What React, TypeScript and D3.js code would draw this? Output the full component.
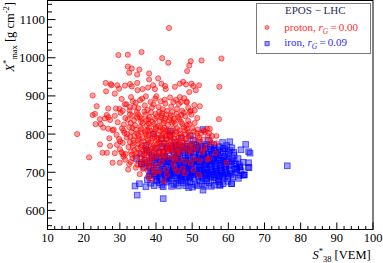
import React from "react";
import * as d3 from "d3";

const protonPoints: [number, number][] = [
  [43.6,1078],[36.0,1015],[29.6,1007],[32.2,1008],[41.7,999],[43.4,987],[32.2,977],[33.3,972],[35.4,969],[32.6,961],[34.8,956],[38.1,959],[38.1,943],[40.6,946],[26.1,934],[27.5,931],[27.7,928],[29.3,928],[31.4,927],[32.8,931],[33.3,925],[34.8,934],[36.3,918],[34.9,915],[37.8,922],[39.2,928],[39.7,918],[41.5,932],[42.5,926],[42.7,918],[45.2,924],[46.6,932],[26.2,912],[28.6,906],[29.8,919],[22.5,901],[23.6,873],[26.8,867],[28.9,867],[31.4,878],[32.8,871],
  [58.1,998],[52.6,993],[49.6,991],[49.2,980],[48.6,965],[47.5,937],[48.3,930],[49.8,932],[50.3,926],[51.9,928],[57.5,924],[49.2,910],[51.0,915],[46.6,897],[46.9,884],[48.5,883],[52.1,873],[49.6,862],
  [18.2,800],[21.5,739],[22.5,850],[23.1,853],[23.3,826],[24.7,826],[24.5,839],[26.4,850],[25.9,841],[26.8,844],[27.3,837],[25.4,817],[26.8,814],[28.0,810],[24.5,773],[25.2,751],[26.4,751],[27.3,769],[27.1,789],[28.6,750],[28.0,725],[30.0,725],[30.9,747],[32.3,707],
  [57.4,839],[59.5,725],[54.1,814],[54.9,814],[53.5,806],[54.7,802],[56.7,795],[55.4,777],[56.7,776],[56.5,750],[51.9,693],[50.3,706],[47.5,710],[45.2,710],[54.7,736],[40.9,702],[49.4,858],[50.7,862],[48.5,885],[51.5,812],[52.5,803],[54.3,795],[51.5,795],[53.0,785],[55.0,782],[55.5,795],
  [30.5,892],[33.1,897],[35.6,889],[37.2,899],[39.8,893],[41.3,886],[43.9,896],[45.5,890],[47.8,894],[31.8,878],[34.4,882],[36.9,875],[38.5,884],[40.7,871],[42.6,880],[44.2,872],[46.3,879],[48.9,869],[50.6,876],[29.9,866],[32.7,862],[35.1,868],[37.6,863],[39.3,878],[41.9,865],[43.1,861],[45.8,866],[47.2,861],[36.2,893],[38.9,870],[34.0,871],[42.4,890],[44.8,884],[40.1,899],[33.6,886],
  [28.6,848],[30.2,856],[31.5,842],[32.8,852],[33.9,836],[34.7,858],[35.5,845],[36.3,829],[37.1,851],[37.9,838],[38.6,857],[39.4,826],[40.2,846],[41.0,834],[41.7,855],[42.5,841],[43.3,824],[44.1,849],[44.9,833],[45.7,853],[46.5,839],[47.3,826],[48.1,847],[48.9,835],[49.8,851],[50.7,829],[29.4,831],[31.1,825],[32.2,838],[33.4,848],[34.2,823],[35.9,833],[36.8,859],[37.5,822],[38.2,844],[39.0,832],[39.9,853],[40.6,821],[41.4,843],[42.1,829],[42.9,851],[43.7,836],[44.5,858],[45.3,827],[46.1,845],[46.9,832],[47.7,856],[48.5,823],[51.4,842],[30.8,861],[35.0,852],[39.7,840],[43.9,843],[47.0,850],[36.0,840],[40.9,858],[45.0,840],[49.2,826],[33.0,829],[38.0,828],[42.3,835],[37.4,836],[41.6,849],[44.4,830],[34.8,843],
  [28.3,812],[29.1,798],[29.8,787],[30.6,815],[31.3,803],[31.9,791],[32.6,818],[33.2,806],[33.8,784],[34.5,811],[35.1,797],[35.7,819],[36.3,789],[36.9,807],[37.5,795],[38.1,816],[38.7,782],[39.3,801],[39.9,813],[40.5,790],[41.1,808],[41.7,796],[42.3,817],[42.9,786],[43.5,804],[44.1,792],[44.7,814],[45.3,799],[45.9,783],[46.5,810],[47.1,794],[47.7,818],[48.3,788],[48.9,805],[49.5,797],[50.1,815],[50.7,784],[51.3,802],[52.0,790],[53.2,809],[30.1,781],[32.0,800],[34.0,795],[35.9,804],[37.8,785],[39.6,793],[41.4,786],[43.2,811],[45.0,788],[46.8,801],[48.6,813],[33.5,816],[36.6,781],[40.0,819],[44.3,783],[47.5,783],[38.4,809],[42.0,802],[35.4,788],[31.0,809],[39.0,788],[41.9,812],[43.8,798],[45.6,806],[37.2,800],[40.8,798],[49.0,792],[34.8,802],[36.0,813],[38.0,797],[42.6,794],[44.6,802],[46.2,791],[32.9,793],[39.5,806],[41.2,817],[43.0,789],[47.9,799],[50.5,807],[35.0,783],[37.6,810],[40.3,785],[42.8,808],[45.8,815],[48.0,810],
  [29.2,772],[30.0,760],[30.8,777],[31.6,748],[32.4,766],[33.1,754],[33.7,776],[34.3,742],[34.9,763],[35.5,751],[36.1,771],[36.7,745],[37.3,759],[37.9,778],[38.5,748],[39.1,767],[39.7,755],[40.3,774],[40.9,743],[41.5,762],[42.1,750],[42.7,770],[43.3,757],[43.9,779],[45.1,765],[45.7,753],[46.3,773],[47.5,761],[48.7,776],[49.3,758],[49.9,768],[51.2,763],[52.0,775],[52.8,752],[53.9,767],[31.0,741],[32.8,779],[34.0,758],[35.8,766],[37.0,750],[38.8,762],[40.0,748],[41.2,777],[42.4,744],[43.6,764],[44.8,771],[46.0,758],[47.2,778],[33.6,769],[36.4,756],[39.4,771],[42.9,761],[45.4,748],[47.8,766],[50.2,757],[34.6,750],[37.6,773],[40.6,766],[44.2,756],[46.6,750],[38.2,741],[41.8,756],[36.9,764],[39.8,760],[35.2,774],[49.6,773],[53.0,759],[30.5,752],[33.3,746],[45.9,776],[48.9,753],[41.0,752],[43.8,772],[38.0,754],[40.8,779],[42.2,777],[44.0,762],[46.8,768],
  [31.5,733],[32.6,721],[33.5,737],[34.4,712],[35.2,728],[36.0,717],[36.8,735],[37.6,706],[38.4,723],[39.2,714],[33.0,727],[35.8,739],[37.0,724],[38.9,735],[36.3,709],[39.6,703],[34.8,720],[38.0,731],[36.5,729],[39.8,739],[37.9,716],
  [41.6,726],[43.2,738],[44.8,722],[46.4,733],[48.0,729],[49.6,724],[52.0,731],[54.2,734],[41.9,737],[45.2,735],[50.4,736],[42.8,707],[46.0,702],[40.4,719],[44.6,738],
  [35.5,695],[37.8,688],[39.5,697],[38.7,681],[43.0,693],[48.0,697],[42.2,676],
];

const ironPoints: [number, number][] = [
  [39.2,800],[37.2,770],[41.5,788],[43.8,797],[45.2,779],[47.0,790],[48.6,775],[50.3,785],[52.0,778],[53.0,812],[54.5,784],[56.0,772],[58.4,778],[60.4,780],[64.8,773],[44.0,808],[42.2,775],[46.5,771],[49.5,796],[51.0,771],
  [45.5,770],[47.5,758],[49.5,752],[51.5,766],[53.5,762],[55.5,747],[57.5,767],[58.5,756],[59.5,770],[52.0,750],[54.0,773],[56.0,757],[50.5,773],[48.0,768],[46.2,755],[55.2,760],[57.0,748],[53.0,745],[61.5,752],[59.0,762],
  [36.0,748],[37.5,758],[38.8,744],[39.9,763],[40.8,751],[41.7,767],[42.5,742],[43.3,756],[44.1,769],[44.9,746],[45.7,760],[46.5,749],[47.3,765],[48.1,743],[48.9,757],[49.7,768],[50.5,751],[51.3,762],[52.1,745],[52.9,759],[53.7,768],[54.5,748],[55.3,756],[56.1,764],[56.9,744],[57.7,753],[58.6,762],[59.5,747],[60.5,757],[61.6,745],[62.7,736],[65.6,754],[66.0,750],[40.0,741],[42.0,752],[44.5,763],[46.0,741],[47.8,752],[49.0,745],[51.0,755],[53.3,750],[55.0,766],[57.0,759],[59.0,741],[43.0,763],[45.0,753],[50.0,761],[54.0,743],[56.5,750],[48.5,762],[52.5,769],[38.0,753],[60.0,752],[61.0,764],[63.5,759],
  [34.6,736],[36.0,722],[37.0,731],[38.0,716],[38.9,738],[39.6,725],[40.3,712],[41.0,733],[41.7,719],[42.4,739],[43.1,727],[43.8,714],[44.5,735],[45.2,721],[45.9,730],[46.6,711],[47.3,737],[48.0,724],[48.7,716],[49.4,733],[50.1,720],[50.8,739],[51.5,727],[52.2,713],[52.9,734],[53.6,722],[54.3,730],[55.0,715],[55.7,737],[56.4,724],[57.1,732],[57.8,718],[58.5,728],[59.2,713],[59.9,735],[60.7,722],[61.6,730],[62.3,710],[63.2,714],[64.1,726],[65.6,725],[65.7,712],[39.0,729],[40.7,737],[42.0,722],[43.5,732],[44.8,717],[46.2,726],[47.6,731],[49.0,711],[50.4,728],[51.8,736],[53.2,718],[54.6,739],[56.0,728],[57.4,711],[58.8,737],[60.2,717],[41.3,727],[44.1,724],[46.9,719],[49.7,724],[52.5,729],[55.3,723],[58.1,723],[61.0,736],[37.5,725],[40.0,720],[42.7,715],[45.5,738],[48.3,729],[51.1,716],[53.9,726],[56.7,716],[59.5,729],[62.0,722],[38.5,712],[43.0,737],[47.0,714],[50.7,733],[54.0,712],[57.5,738],[60.9,727],[45.8,733],[48.9,739],[52.0,720],[55.5,731],[42.2,730],[46.0,735],[49.2,718],[53.0,739],[56.2,735],[59.0,720],[44.0,728],[47.8,722],[51.4,731],[54.9,719],[58.0,731],[63.0,719],[36.8,713],
  [37.6,680],[38.4,696],[39.2,705],[40.0,688],[40.7,699],[41.4,683],[42.1,708],[42.8,692],[43.5,701],[44.2,685],[44.9,697],[45.6,706],[46.3,681],[47.0,693],[47.7,702],[48.4,687],[49.1,698],[49.8,709],[50.5,684],[51.2,695],[51.9,704],[52.6,689],[53.3,700],[54.0,682],[54.7,694],[55.4,707],[56.1,686],[56.8,698],[57.5,690],[58.2,703],[58.9,684],[59.6,696],[60.4,705],[61.3,688],[62.3,700],[63.2,692],[64.4,693],[39.6,692],[41.0,703],[42.5,686],[43.9,696],[45.3,690],[46.7,708],[48.1,682],[49.5,691],[50.9,703],[52.3,696],[53.7,707],[55.1,688],[56.5,703],[57.9,697],[59.3,708],[60.8,694],[40.3,681],[43.2,683],[46.0,699],[48.8,704],[51.6,687],[54.4,699],[57.2,683],[60.0,689],[38.8,701],[41.8,695],[44.6,709],[47.4,697],[50.2,694],[53.0,685],[55.8,695],[58.6,692],[61.8,707],[39.9,696],[42.9,699],[45.9,684],[48.9,694],[51.9,709],[54.9,690],[57.9,705],[44.0,691],[47.1,688],[50.0,700],[53.5,693],[56.3,709],[59.0,701],[62.8,684],[41.2,690],[45.0,702],[49.3,686],[52.8,706],[56.9,692],[60.5,698],[43.7,705],[46.8,692],[51.0,699],[55.6,701],[58.4,687],[47.9,708],[53.8,696],[38.1,690],[63.5,704],[42.3,702],
  [38.5,671],[40.2,677],[41.6,666],[42.9,674],[44.3,663],[45.6,671],[46.9,678],[48.2,665],[49.5,674],[50.8,668],[52.1,677],[53.4,663],[54.7,672],[56.0,666],[57.3,675],[57.7,666],[58.6,670],[60.9,670],[41.0,672],[43.6,679],[46.2,664],[48.8,677],[51.4,665],[54.0,678],[56.6,679],[59.8,676],[44.9,668],[47.5,672],[50.1,661],[52.7,670],[55.3,663],[53.0,653],[39.5,665],[42.0,662],[49.0,660],
  [34.2,664],[35.4,670],[34.8,640],[37.2,662],[42.0,631],[76.3,717],[36.0,722],[64.4,693],[63.2,714],[62.3,710],[60.9,670],[57.7,666],[65.5,713],[64.1,693],
];

const xMajorTicks = [10, 20, 30, 40, 50, 60, 70, 80, 90, 100];
const yMajorTicks = [600, 700, 800, 900, 1000, 1100];
const legendTitle = "EPOS − LHC";
const protonLabel = "proton, ";
const protonRG = "0.00";
const ironLabel = "iron, ";
const ironRG = "0.09";

const W = 383;
const H = 263;
const L = 47.5, R = 373, T = 0.5, B = 229.5;

const PROTON_FILL = "rgba(255,0,0,0.38)";
const PROTON_STROKE = "rgba(255,0,0,0.55)";
const IRON_FILL = "rgba(0,0,255,0.38)";
const IRON_STROKE = "rgba(0,0,255,0.6)";
const FONT = "'Liberation Serif', 'Times New Roman', serif";

export default function App() {
  const x = d3.scaleLinear().domain([10, 100]).range([L, R]);
  const y = d3.scaleLinear().domain([550, 1150]).range([B, T]);

  const xMinor = d3.range(10, 100.01, 2).filter((v) => Math.abs(v % 10) > 0.01);
  const yMinor = d3.range(560, 1150, 20).filter((v) => v % 100 !== 0);

  return (
    <svg
      width={W}
      height={H}
      style={{ position: "absolute", left: 0, top: 0, background: "white" }}
      fontFamily={FONT}
    >
      <rect x={0} y={0} width={W} height={H} fill="white" />
      <g>
        {ironPoints.map(([s, xm], i) => (
          <rect
            key={"i" + i}
            x={x(s) - 2.8}
            y={y(xm) - 2.8}
            width={5.6}
            height={5.6}
            fill={IRON_FILL}
            stroke={IRON_STROKE}
            strokeWidth={1}
          />
        ))}
      </g>
      <g>
        {protonPoints.map(([s, xm], i) => (
          <circle
            key={"p" + i}
            cx={x(s)}
            cy={y(xm)}
            r={2.6}
            fill={PROTON_FILL}
            stroke={PROTON_STROKE}
            strokeWidth={1}
          />
        ))}
      </g>
      <rect x={L} y={T} width={R - L} height={B - T} fill="none" stroke="black" strokeWidth={1} />
      {xMajorTicks.map((v) => (
        <line key={"xM" + v} x1={x(v)} x2={x(v)} y1={B} y2={B - 7} stroke="black" />
      ))}
      {xMinor.map((v) => (
        <line key={"xm" + v} x1={x(v)} x2={x(v)} y1={B} y2={B - 3.5} stroke="black" />
      ))}
      {xMajorTicks.map((v) => (
        <text key={"xl" + v} x={x(v)} y={241.7} fontSize={12.5} textAnchor="middle" fill="black">
          {v}
        </text>
      ))}
      {yMajorTicks.map((v) => (
        <line key={"yM" + v} x1={L} x2={L + 8} y1={y(v)} y2={y(v)} stroke="black" />
      ))}
      {yMinor.map((v) => (
        <line key={"ym" + v} x1={L} x2={L + 4.5} y1={y(v)} y2={y(v)} stroke="black" />
      ))}
      {yMajorTicks.map((v) => (
        <text key={"yl" + v} x={45} y={y(v)} dy="0.35em" fontSize={13} textAnchor="end" fill="black">
          {v}
        </text>
      ))}
      <text x={370.7} y={259} fontSize={12.5} textAnchor="end" fill="black">
        <tspan fontStyle="italic">S</tspan>
        <tspan fontSize={8.5} dy={-5}>*</tspan>
        <tspan fontSize={8.5} dy={8}>38</tspan>
        <tspan dy={-3}> [VEM]</tspan>
      </text>
      <text transform="translate(13.5,2) rotate(-90)" fontSize={12.5} textAnchor="end" fill="black">
        <tspan fontStyle="italic">X</tspan>
        <tspan fontSize={8.5} dy={-5}>*</tspan>
        <tspan fontSize={8.5} dy={8}>max</tspan>
        <tspan dy={-3}> [g cm</tspan>
        <tspan fontSize={8.5} dy={-5}>-2</tspan>
        <tspan dy={5}>]</tspan>
      </text>
      <rect x={256.5} y={3.5} width={114} height={50} fill="white" stroke="#7a7a7a" strokeWidth={1} />
      <text x={315.3} y={14.3} fontSize={11} textAnchor="middle" fill="#1f2d5c">
        {legendTitle}
      </text>
      <circle cx={267} cy={27.5} r={2} fill={PROTON_FILL} stroke={PROTON_STROKE} />
      <text x={284.3} y={31.3} fontSize={11} fill="#ff2a2a">
        {protonLabel}
        <tspan fontStyle="italic">r</tspan>
        <tspan fontSize={7.5} dy={2.5} fontStyle="italic">G</tspan>
        <tspan dy={-2.5}>{"\u2009=\u2009" + protonRG}</tspan>
      </text>
      <rect x={265} y={41.5} width={4.2} height={4.2} fill={IRON_FILL} stroke={IRON_STROKE} />
      <text x={284.3} y={46.3} fontSize={11} fill="#2a2aff">
        {ironLabel}
        <tspan fontStyle="italic">r</tspan>
        <tspan fontSize={7.5} dy={2.5} fontStyle="italic">G</tspan>
        <tspan dy={-2.5}>{"\u2009=\u2009" + ironRG}</tspan>
      </text>
    </svg>
  );
}
